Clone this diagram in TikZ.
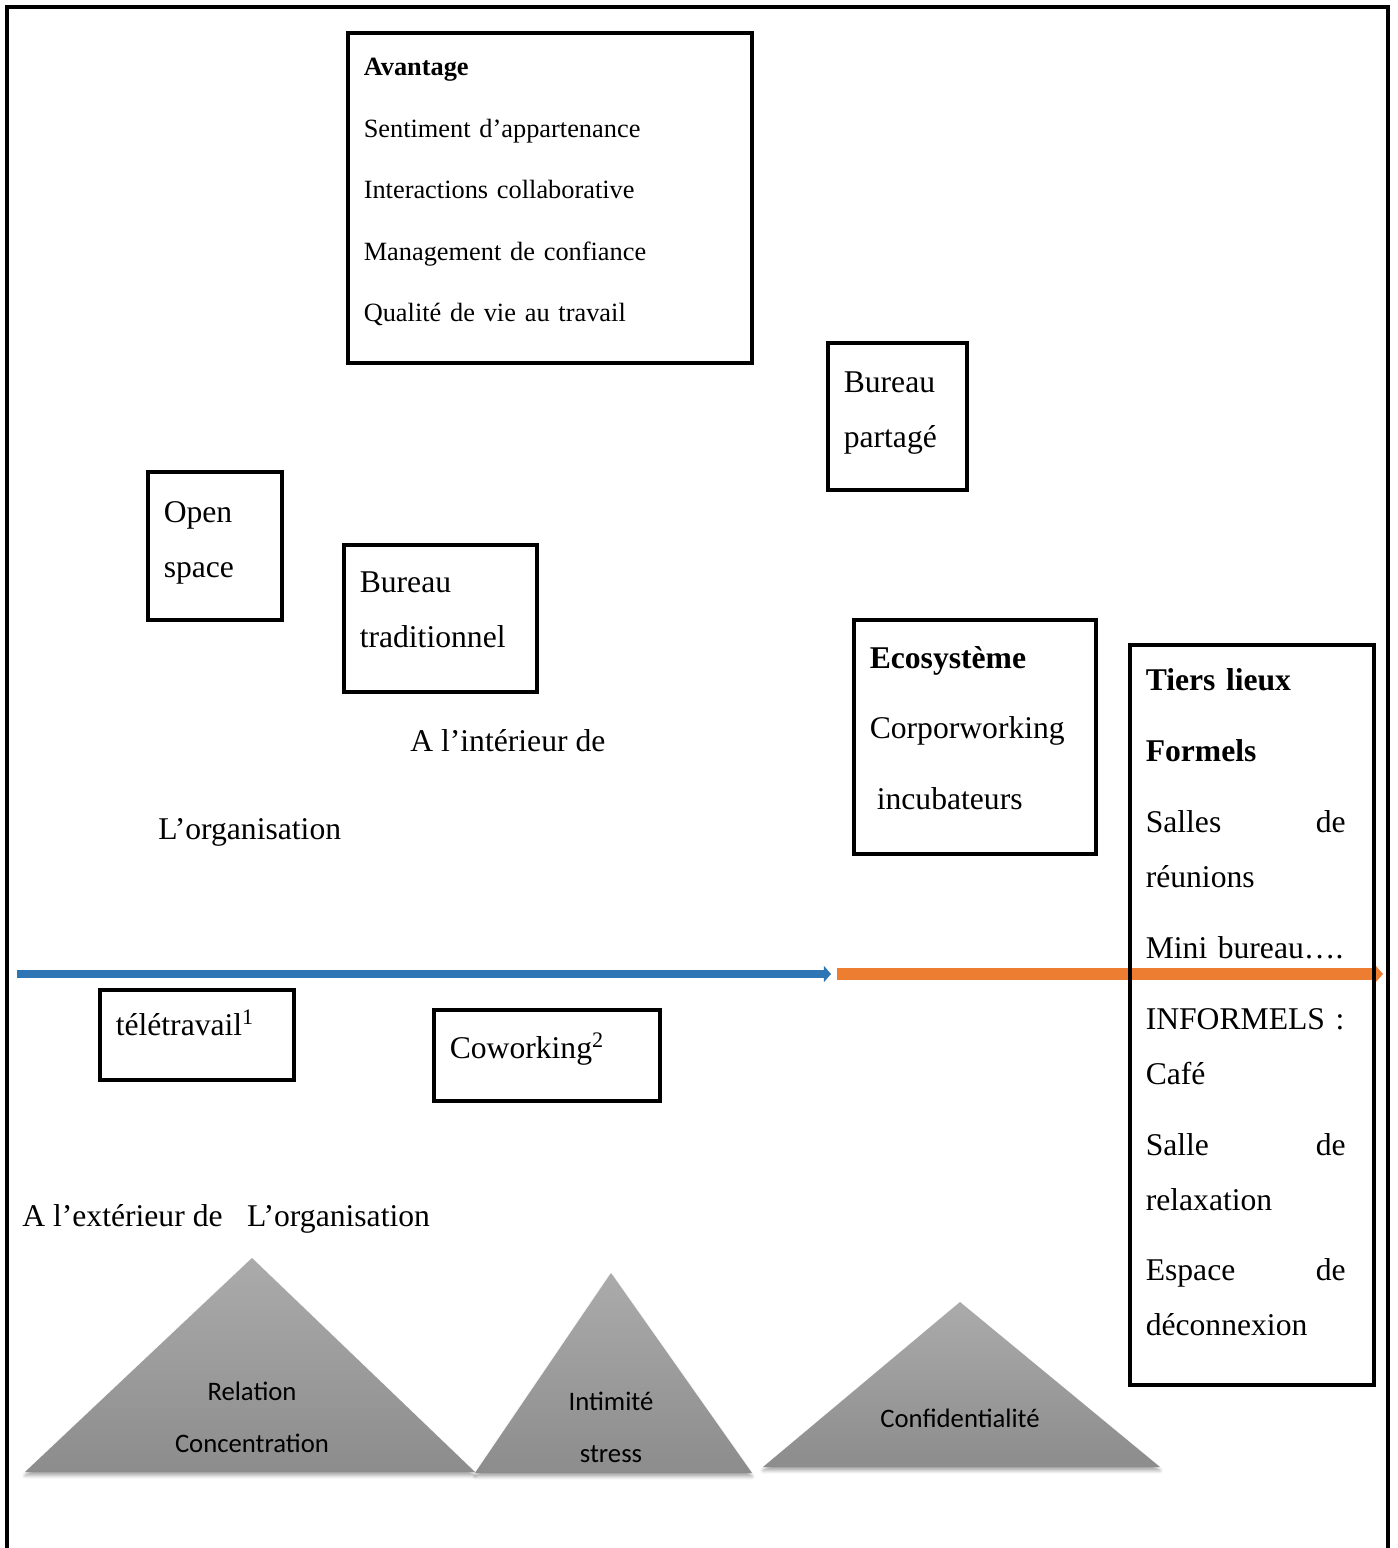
\documentclass[tikz,border=0pt]{standalone}
\usepackage{fontspec}
\setmainfont{Liberation Serif}
\newfontfamily\calibri{Carlito}
\usetikzlibrary{arrows.meta, positioning, shadows.blur}

\definecolor{arrblue}{RGB}{46,117,182}
\definecolor{arrorange}{RGB}{237,125,49}

\begin{document}
\begin{tikzpicture}[x=0.2mm, y=-0.2mm,
  box/.style={
    draw, line width=2pt, anchor=north west,
    inner xsep=3.2mm, inner ysep=0pt,
    align=left, font=\fontsize{18pt}{31.3pt}\selectfont
  },
  lbl/.style={inner sep=0pt, anchor=base west, font=\fontsize{18pt}{22pt}\selectfont},
  peak/.style={
    top color=gray!66, bottom color=gray!90,
    blur shadow={shadow xshift=0pt, shadow yshift=-2pt, shadow opacity=35}
  },
  tri/.style={align=center, font=\calibri\fontsize{15.2pt}{29.6pt}\selectfont},
  frame/.style={line width=2.3pt},
  arr/.style={line width=4.5pt, draw=arrblue, -{Triangle[length=4pt, width=9pt]}},
  arrb/.style={line width=6.3pt, draw=arrorange, -{Triangle[length=5pt, width=11pt]}}
]
  \useasboundingbox (0,0) rectangle (1398,1548);

  % outer frame, open at the bottom
  \draw[frame] (7,1548) -- (7,7) -- (1388,7) -- (1388,1548);

  % axis
  \coordinate (bstart) at (17,974);
  \coordinate (bend) at (831,974);
  \coordinate (ostart) at (837,974);
  \coordinate (oend) at (1383,974);
  \draw[arr] (bstart) -- (bend);
  \draw[arrb] (ostart) -- (oend);

  % inside the organisation
  \node[box, text width=74.4mm, minimum height=66mm,
        font=\fontsize{15pt}{35pt}\selectfont] (avantage) at (346,31)
    {\textbf{Avantage}\\
     Sentiment d’appartenance\\
     Interactions collaborative\\
     Management de confiance\\
     Qualité de vie au travail\rule[-9pt]{0pt}{0pt}};

  \node[box, text width=21.4mm, minimum height=29.4mm] (partage) at (826,341)
    {Bureau\\partagé\rule[-8pt]{0pt}{0pt}};
  \node[box, text width=20.4mm, minimum height=29.6mm] (openspace) at (146,470)
    {Open\\space\rule[-7pt]{0pt}{0pt}};
  \node[box, text width=32.2mm, minimum height=29.4mm] (tradi) at (342,543)
    {Bureau\\traditionnel\rule[-10pt]{0pt}{0pt}};
  \node[box, text width=42mm, minimum height=46.8mm,
        font=\fontsize{18pt}{40pt}\selectfont] (eco) at (852,618)
    {\textbf{Ecosystème}\\
     Corporworking\\
     \hspace{4pt}incubateurs\rule[-10pt]{0pt}{0pt}};

  \node[lbl] (interieur) at (410,751) {A l’intérieur de};
  \node[lbl] (orgint) at (158,839) {L’organisation};

  % tiers lieux
  \node[box, text width=42.4mm, minimum height=148mm] (tiers) at (1128,643)
    {\rightskip=2.4mm plus 2em\relax
     \textbf{Tiers lieux}\\[9pt]
     \textbf{Formels}\\[9pt]
     Salles\hfill de\\
     réunions\\[9pt]
     Mini bureau….\\[9pt]
     INFORMELS~:\\
     Café\\[9pt]
     Salle\hfill de\\
     relaxation\\[9pt]
     Espace\hfill de\\
     déconnexion\rule[-14pt]{0pt}{0pt}};

  % outside the organisation
  \node[box, text width=32.4mm, minimum height=18mm] (tele) at (98,988)
    {télétravail\textsuperscript{1}\rule[-14pt]{0pt}{0pt}};
  \node[box, text width=38.8mm, minimum height=18.2mm] (cowork) at (432,1008)
    {Coworking\textsuperscript{2}\rule[-11pt]{0pt}{0pt}};

  \node[lbl] (exterieur) at (22,1226) {A l’extérieur de\hspace{14pt}L’organisation};

  % triangles
  \path[peak] (252,1258) -- (475,1472) -- (25,1472) -- cycle;
  \path[peak] (611,1273) -- (752,1473) -- (475,1473) -- cycle;
  \path[peak] (960,1302) -- (1160,1467) -- (763,1467) -- cycle;

  \node[tri] (relation) at (252,1417) {Relation\\Concentration};
  \node[tri] (intimite) at (611,1427) {Intimité\\stress};
  \node[tri] (confid) at (960,1418) {Confidentialité};

\end{tikzpicture}
\end{document}
